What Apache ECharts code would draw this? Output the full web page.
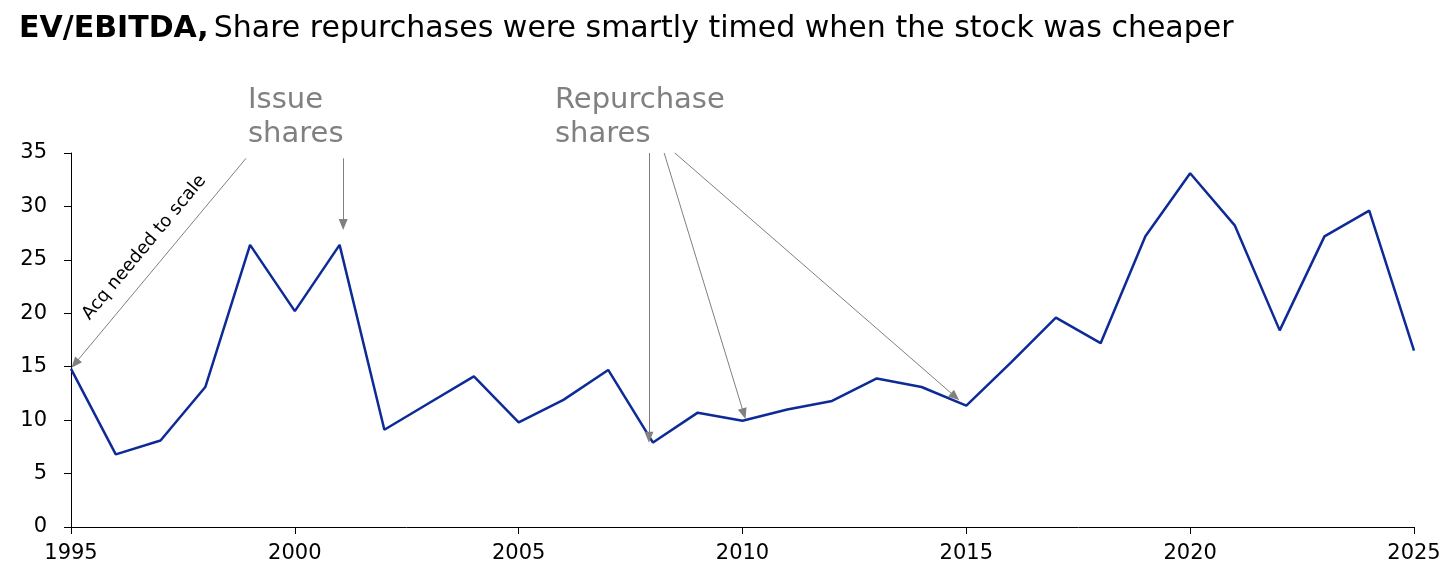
<!DOCTYPE html>
<html>
<head>
<meta charset="utf-8">
<script src="https://cdn.jsdelivr.net/npm/echarts@6/dist/echarts.min.js"></script>
<style>
  html, body { margin: 0; padding: 0; background: #fff; }
  #chart { width: 1456px; height: 578px; }
</style>
</head>
<body>
<div id="chart"></div>
<script>
// EV/EBITDA by year
var years = [1995, 1996, 1997, 1998, 1999, 2000, 2001, 2002, 2003, 2004, 2005,
             2006, 2007, 2008, 2009, 2010, 2011, 2012, 2013, 2014, 2015,
             2016, 2017, 2018, 2019, 2020, 2021, 2022, 2023, 2024, 2025];
var evEbitda = [14.8, 6.8, 8.1, 13.1, 26.4, 20.2, 26.4, 9.1, 11.6, 14.1, 9.8,
                11.9, 14.7, 7.9, 10.7, 9.95, 11.0, 11.8, 13.9, 13.1, 11.35,
                15.4, 19.6, 17.2, 27.2, 33.1, 28.2, 18.4, 27.2, 29.6, 16.5];
var yTicks = [0, 5, 10, 15, 20, 25, 30, 35];
var xTicks = [1995, 2000, 2005, 2010, 2015, 2020, 2025];

var FONT = 'DejaVu Sans';
var GREY = '#808080';

var seriesData = years.map(function (y, i) { return [y, evEbitda[i]]; });

function arrow(from, to, label) {
    var item = [
        { coord: from, symbol: 'none' },
        { coord: to, symbol: 'triangle', symbolSize: [9, 11] }
    ];
    if (label) {
        item[0].label = {
            show: true,
            formatter: label,
            position: 'insideMiddleTop',
            distance: 12,
            color: '#000',
            fontFamily: FONT,
            fontSize: 18
        };
    }
    return item;
}

var chart = echarts.init(document.getElementById('chart'));
var option = {
    animation: false,
    backgroundColor: '#fff',
    title: {
        left: 14,
        top: 9,
        text: '{b|EV/EBITDA,} {r|Share repurchases were smartly timed when the stock was cheaper}',
        textStyle: {
            rich: {
                b: { fontFamily: FONT, fontWeight: 'bold', fontSize: 30, color: '#000' },
                r: { fontFamily: FONT, fontWeight: 'normal', fontSize: 30, color: '#000' }
            }
        }
    },
    graphic: [
        {
            type: 'text', left: 248, top: 83,
            style: { text: 'Issue\nshares', fill: GREY, font: '29px "DejaVu Sans"', lineHeight: 34 }
        },
        {
            type: 'text', left: 555, top: 83,
            style: { text: 'Repurchase\nshares', fill: GREY, font: '29px "DejaVu Sans"', lineHeight: 34 }
        }
    ],
    grid: { left: 71, right: 42, top: 153, bottom: 51 },
    xAxis: {
        type: 'value',
        min: 1995, max: 2025, interval: 5,
        axisLine: { lineStyle: { color: '#000', width: 1 } },
        axisTick: { show: true, length: 7, lineStyle: { color: '#000' } },
        splitLine: { show: false },
        axisLabel: {
            color: '#000', fontFamily: FONT, fontSize: 21, margin: 16,
            showMinLabel: true, showMaxLabel: true,
            formatter: function (v) { return xTicks.indexOf(v) >= 0 ? String(v) : ''; }
        }
    },
    yAxis: {
        type: 'value',
        min: 0, max: 35, interval: 5,
        axisLine: { show: true, lineStyle: { color: '#000', width: 1 } },
        axisTick: { show: true, length: 7, lineStyle: { color: '#000' } },
        splitLine: { show: false },
        axisLabel: {
            color: '#000', fontFamily: FONT, fontSize: 21, margin: 24,
            formatter: function (v) { return yTicks.indexOf(v) >= 0 ? String(v) : ''; }
        }
    },
    series: [{
        type: 'line',
        data: seriesData,
        symbol: 'none',
        clip: false,
        lineStyle: { color: '#0d2a97', width: 2.5 },
        markLine: {
            silent: true,
            animation: false,
            lineStyle: { color: GREY, width: 1, type: 'solid' },
            label: { show: false },
            emphasis: { disabled: true },
            data: [
                arrow([1998.91, 34.5], [1995.09, 15.3], 'Acq needed to scale'),
                arrow([2001.08, 34.5], [2001.08, 28.3]),
                arrow([2007.91, 35], [2007.91, 8.4]),
                arrow([2008.25, 35], [2010.03, 10.6]),
                arrow([2008.49, 35], [2014.75, 12.2])
            ]
        }
    }]
};
chart.setOption(option);
</script>
</body>
</html>
